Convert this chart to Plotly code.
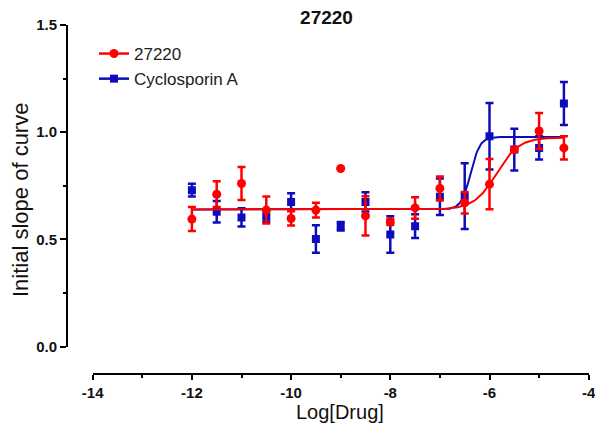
import numpy as np
import plotly.graph_objects as go

# ---- data ----
log_drug = [-12, -11.5, -11, -10.5, -10, -9.5, -9, -8.5, -8, -7.5, -7, -6.5, -6, -5.5, -5, -4.5]

red_y   = [0.595, 0.711, 0.761, 0.637, 0.598, 0.637, 0.831, 0.610, 0.582, 0.647, 0.738, 0.671, 0.758, 0.919, 1.006, 0.927]
red_err = [0.056, 0.060, 0.077, 0.063, 0.033, 0.034, 0.000, 0.091, 0.015, 0.050, 0.056, 0.050, 0.117, 0.010, 0.084, 0.054]

blue_y   = [0.730, 0.629, 0.603, 0.606, 0.675, 0.502, 0.562, 0.675, 0.523, 0.562, 0.699, 0.702, 0.981, 0.919, 0.927, 1.134]
blue_err = [0.030, 0.050, 0.042, 0.025, 0.040, 0.064, 0.020, 0.045, 0.085, 0.055, 0.085, 0.153, 0.155, 0.097, 0.054, 0.100]

# 4-parameter logistic fit parameters (bottom, top, logEC50, hill)
red_fit  = dict(bottom=0.640, top=0.975, logec50=-5.86, hill=1.92)
blue_fit = dict(bottom=0.640, top=0.978, logec50=-6.38, hill=4.6)
fit_range = (-12, -4.5)

x_ticks = [-14, -12, -10, -8, -6, -4]
y_ticks = [0.0, 0.5, 1.0, 1.5]
y_tick_text = ["0.0", "0.5", "1.0", "1.5"]

RED = "#FF0000"
BLUE = "#0C0CBC"


def four_pl(x, p):
    return p["bottom"] + (p["top"] - p["bottom"]) / (1 + 10 ** ((p["logec50"] - x) * p["hill"]))


xf = np.linspace(fit_range[0], fit_range[1], 400)

fig = go.Figure()

# Cyclosporin A (drawn first, underneath)
fig.add_trace(go.Scatter(x=xf, y=four_pl(xf, blue_fit), mode="lines",
                         line=dict(color=BLUE, width=2), showlegend=False, hoverinfo="skip"))
fig.add_trace(go.Scatter(x=log_drug, y=blue_y, mode="markers",
                         marker=dict(symbol="square", size=8, color=BLUE),
                         error_y=dict(type="data", array=blue_err, color=BLUE, thickness=2.5, width=4),
                         showlegend=False))
# 27220
fig.add_trace(go.Scatter(x=xf, y=four_pl(xf, red_fit), mode="lines",
                         line=dict(color=RED, width=2), showlegend=False, hoverinfo="skip"))
fig.add_trace(go.Scatter(x=log_drug, y=red_y, mode="markers",
                         marker=dict(symbol="circle", size=9, color=RED),
                         error_y=dict(type="data", array=red_err, color=RED, thickness=2.5, width=4),
                         showlegend=False))

# legend entries
fig.add_trace(go.Scatter(x=[None], y=[None], mode="lines+markers", name="27220",
                         line=dict(color=RED, width=2.5),
                         marker=dict(symbol="circle", size=9, color=RED),
                         legendgroup="a", legendrank=1))
fig.add_trace(go.Scatter(x=[None], y=[None], mode="lines+markers", name="Cyclosporin A",
                         line=dict(color=BLUE, width=2.5),
                         marker=dict(symbol="square", size=8, color=BLUE),
                         legendgroup="b", legendrank=2))

FONT = "Liberation Sans, Arial, sans-serif"

# page body has an 8px default margin; figure is sized to fit the 603x430 window
OFF = 8
W, H = 603 - OFF, 430 - OFF
ML, MR, MT, MB = 59, 10, 12, 56
PW = W - ML - MR
PH = H - MT - MB


def px_x(p):
    return (p - OFF - ML) / PW


def px_y(p):
    return (H - MB - (p - OFF)) / PH


fig.update_layout(
    width=W, height=H,
    margin=dict(l=ML, r=MR, t=MT, b=MB, autoexpand=False),
    paper_bgcolor="white", plot_bgcolor="white",
    font=dict(family=FONT, color="black"),
    title=dict(text="<b>27220</b>", x=(326.5 - OFF) / W, xref="container", xanchor="center",
               y=1 - (17 - OFF) / H, yref="container", yanchor="middle",
               font=dict(size=19, family=FONT, color="#111111")),
    showlegend=True,
    legend=dict(x=px_x(94), y=px_y(36), xanchor="left", yanchor="top",
                font=dict(size=17, family=FONT, color="#222222"),
                bgcolor="rgba(0,0,0,0)", traceorder="grouped", tracegroupgap=0),
    xaxis=dict(
        range=[-14, -4], domain=[px_x(92.7), px_x(588.7)], anchor="free", position=0,
        automargin=False,
        showgrid=False, zeroline=False, showline=True, linecolor="black", linewidth=2,
        ticks="outside", ticklen=5, tickwidth=2, tickcolor="black",
        tickvals=x_ticks, ticktext=[f"<b>{t}</b>" for t in x_ticks],
        tickfont=dict(size=15, family=FONT, color="#111111"),
        minor=dict(dtick=1, ticks="outside", ticklen=3, tickwidth=2, tickcolor="black", showgrid=False),
    ),
    yaxis=dict(
        range=[0, 1.5], domain=[px_y(346.7), px_y(25)], anchor="free", position=0,
        automargin=False,
        showgrid=False, zeroline=False, showline=True, linecolor="black", linewidth=2,
        ticks="outside", ticklen=6, tickwidth=2, tickcolor="black",
        tickvals=y_ticks, ticktext=[f"<b>{t}</b>" for t in y_tick_text],
        tickfont=dict(size=15, family=FONT, color="#111111"),
        minor=dict(dtick=0.25, ticks="outside", ticklen=3, tickwidth=2, tickcolor="black", showgrid=False),
    ),
    annotations=[
        dict(text="Initial slope of curve", textangle=-90, xref="paper", yref="paper",
             x=px_x(20), y=px_y(200), xanchor="center", yanchor="middle",
             showarrow=False, font=dict(size=22, family=FONT, color="#111111")),
        dict(text="Log[Drug]", xref="paper", yref="paper",
             x=px_x(340), y=px_y(412), xanchor="center", yanchor="middle",
             showarrow=False, font=dict(size=20, family=FONT, color="#111111")),
    ],
)

fig.write_html("out.html")
